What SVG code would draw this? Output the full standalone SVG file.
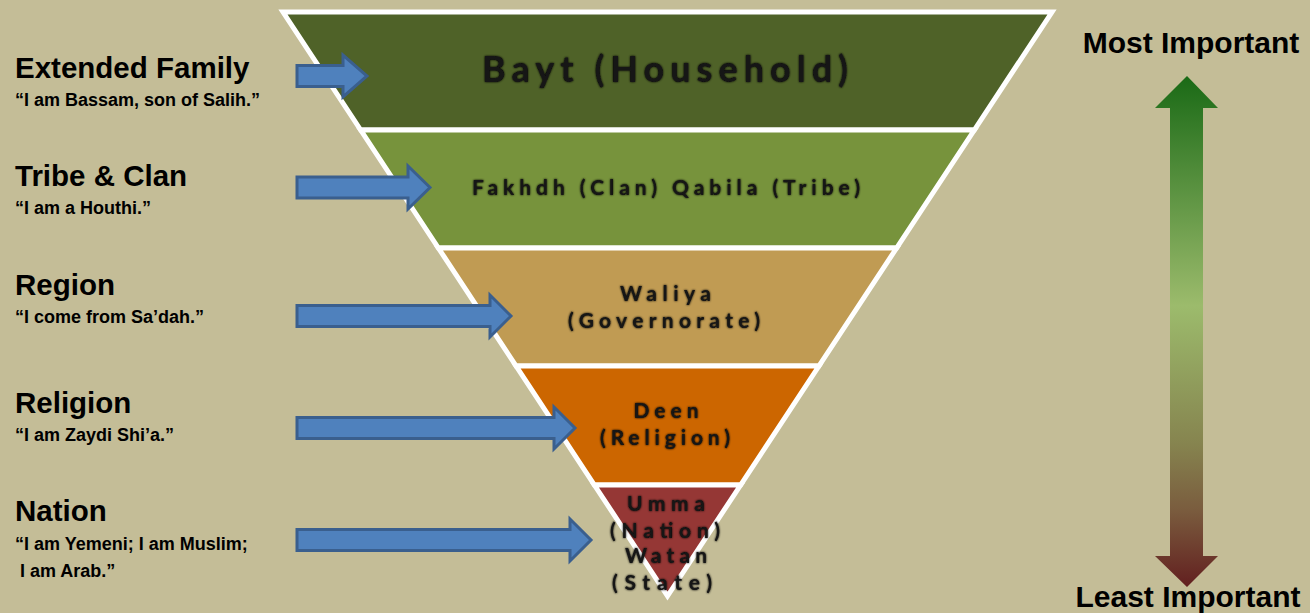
<svg xmlns="http://www.w3.org/2000/svg" width="1310" height="613" viewBox="0 0 1310 613">
  <style>
    .band { stroke: #ffffff; stroke-width: 5; stroke-linejoin: miter; }
    .bt { font-family: Lato, "Liberation Sans", Arial, sans-serif; font-weight: bold; fill: #141414; text-anchor: middle; filter: url(#glow); }
    .head { font-family: "Liberation Sans", Arial, sans-serif; font-weight: bold; font-size: 29.5px; fill: #000; }
    .quote { font-family: "Liberation Sans", Arial, sans-serif; font-weight: bold; font-size: 18px; fill: #000; }
    .side { font-family: "Liberation Sans", Arial, sans-serif; font-weight: bold; font-size: 30px; fill: #000; text-anchor: middle; }
    .blue { fill: #4f81bd; stroke: #3a5f8e; stroke-width: 3; stroke-linejoin: miter; }
  </style>
  <defs>
    <filter id="glow" x="-10%" y="-30%" width="120%" height="160%">
      <feGaussianBlur in="SourceAlpha" stdDeviation="1.3" result="b"/>
      <feMerge><feMergeNode in="b"/><feMergeNode in="SourceGraphic"/></feMerge>
    </filter>
    <linearGradient id="imp" gradientUnits="userSpaceOnUse" x1="0" y1="76" x2="0" y2="587">
      <stop offset="0" stop-color="#1a6a16"/>
      <stop offset="0.45" stop-color="#9cbb6c"/>
      <stop offset="0.72" stop-color="#86844f"/>
      <stop offset="0.85" stop-color="#7a5c3e"/>
      <stop offset="1" stop-color="#621f1f"/>
    </linearGradient>
  </defs>
  <rect x="0" y="0" width="1310" height="613" fill="#c4bd97"/>

  <g id="band-bayt">
    <polygon class="band" fill="#4f6228" points="283,12 1052,12 974.3,130 360.7,130"/>
    <text class="bt" x="665" y="82" font-size="36" textLength="366" lengthAdjust="spacing">Bayt (Household)</text>
  </g>
  <g id="band-fakhdh">
    <polygon class="band" fill="#77933c" points="360.7,130 974.3,130 896.6,248 438.4,248"/>
    <text class="bt" x="666" y="195" font-size="21" textLength="388" lengthAdjust="spacing">Fakhdh (Clan) Qabila (Tribe)</text>
  </g>
  <g id="band-waliya">
    <polygon class="band" fill="#c09b53" points="438.4,248 896.6,248 818.9,366 516.1,366"/>
    <text class="bt" x="665.5" y="301" font-size="21" textLength="91" lengthAdjust="spacing">Waliya</text>
    <text class="bt" x="664" y="328" font-size="21" textLength="192" lengthAdjust="spacing">(Governorate)</text>
  </g>
  <g id="band-deen">
    <polygon class="band" fill="#cc6600" points="516.1,366 818.9,366 740.6,485 594.4,485"/>
    <text class="bt" x="666" y="418" font-size="21" textLength="65" lengthAdjust="spacing">Deen</text>
    <text class="bt" x="665" y="445" font-size="21" textLength="130" lengthAdjust="spacing">(Religion)</text>
  </g>
  <g id="band-umma">
    <polygon class="band" fill="#953735" points="594.4,485 740.6,485 667.5,596"/>
    <text class="bt" x="666" y="511" font-size="21" textLength="78" lengthAdjust="spacing">Umma</text>
    <text class="bt" x="665" y="538" font-size="21" textLength="110" lengthAdjust="spacing">(Nation)</text>
    <text class="bt" x="666" y="563" font-size="21" textLength="82" lengthAdjust="spacing">Watan</text>
    <text class="bt" x="662" y="590" font-size="21" textLength="100" lengthAdjust="spacing">(State)</text>
  </g>

  <g id="label-family">
    <text class="head" x="15" y="78">Extended Family</text>
    <text class="quote" x="15" y="106">“I am Bassam, son of Salih.”</text>
  </g>
  <g id="label-tribe">
    <text class="head" x="15" y="186">Tribe &amp; Clan</text>
    <text class="quote" x="15" y="214">“I am a Houthi.”</text>
  </g>
  <g id="label-region">
    <text class="head" x="15" y="295">Region</text>
    <text class="quote" x="15" y="323">“I come from Sa’dah.”</text>
  </g>
  <g id="label-religion">
    <text class="head" x="15" y="413">Religion</text>
    <text class="quote" x="15" y="441">“I am Zaydi Shi’a.”</text>
  </g>
  <g id="label-nation">
    <text class="head" x="15" y="521">Nation</text>
    <text class="quote" x="15" y="550">“I am Yemeni; I am Muslim;</text>
    <text class="quote" x="15" y="577" xml:space="preserve"> I am Arab.”</text>
  </g>

  <g id="connectors">
    <polygon class="blue" points="297,65.5 343,65.5 343,55 367,76 343,97 343,86.5 297,86.5"/>
    <polygon class="blue" points="297,177 408,177 408,166 430,187.5 408,209 408,198 297,198"/>
    <polygon class="blue" points="297,305.5 490,305.5 490,295 511,316 490,337 490,326.5 297,326.5"/>
    <polygon class="blue" points="297,417.5 554,417.5 554,407 575,428 554,449 554,438.5 297,438.5"/>
    <polygon class="blue" points="297,529.5 570,529.5 570,519 591,540 570,561 570,550.5 297,550.5"/>
  </g>

  <g id="importance-scale">
    <text class="side" x="1191" y="53">Most Important</text>
    <polygon fill="url(#imp)" points="1187,76 1218,108 1203,108 1203,556 1218,556 1187,587 1155,556 1170,556 1170,108 1155,108"/>
    <text class="side" x="1188" y="607">Least Important</text>
  </g>
</svg>
